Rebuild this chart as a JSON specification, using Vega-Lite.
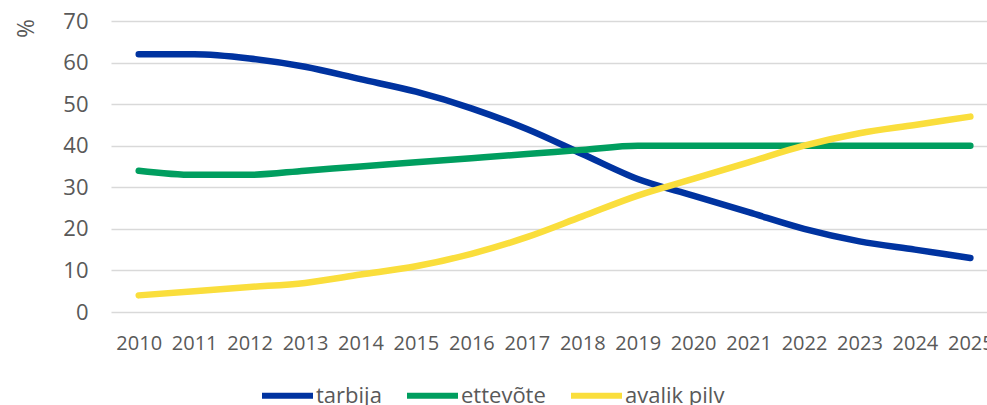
{
  "$schema": "https://vega.github.io/schema/vega-lite/v6.json",
  "width": 876,
  "height": 291,
  "autosize": "none",
  "padding": {"left": 111, "top": 21, "right": 0, "bottom": 93},
  "background": "white",
  "config": {
    "view": {"stroke": null},
    "font": "Open Sans",
    "axis": {"labelColor": "#595959", "labelFont": "Open Sans", "titleFont": "Open Sans"},
    "legend": {"labelFont": "Open Sans"}
  },
  "data": {
    "values": [
      {"year": 2010, "series": "tarbija", "value": 62},
      {"year": 2011, "series": "tarbija", "value": 62},
      {"year": 2012, "series": "tarbija", "value": 61},
      {"year": 2013, "series": "tarbija", "value": 59},
      {"year": 2014, "series": "tarbija", "value": 56},
      {"year": 2015, "series": "tarbija", "value": 53},
      {"year": 2016, "series": "tarbija", "value": 49},
      {"year": 2017, "series": "tarbija", "value": 44},
      {"year": 2018, "series": "tarbija", "value": 38},
      {"year": 2019, "series": "tarbija", "value": 32},
      {"year": 2020, "series": "tarbija", "value": 28},
      {"year": 2021, "series": "tarbija", "value": 24},
      {"year": 2022, "series": "tarbija", "value": 20},
      {"year": 2023, "series": "tarbija", "value": 17},
      {"year": 2024, "series": "tarbija", "value": 15},
      {"year": 2025, "series": "tarbija", "value": 13},
      {"year": 2010, "series": "ettevõte", "value": 34},
      {"year": 2011, "series": "ettevõte", "value": 33},
      {"year": 2012, "series": "ettevõte", "value": 33},
      {"year": 2013, "series": "ettevõte", "value": 34},
      {"year": 2014, "series": "ettevõte", "value": 35},
      {"year": 2015, "series": "ettevõte", "value": 36},
      {"year": 2016, "series": "ettevõte", "value": 37},
      {"year": 2017, "series": "ettevõte", "value": 38},
      {"year": 2018, "series": "ettevõte", "value": 39},
      {"year": 2019, "series": "ettevõte", "value": 40},
      {"year": 2020, "series": "ettevõte", "value": 40},
      {"year": 2021, "series": "ettevõte", "value": 40},
      {"year": 2022, "series": "ettevõte", "value": 40},
      {"year": 2023, "series": "ettevõte", "value": 40},
      {"year": 2024, "series": "ettevõte", "value": 40},
      {"year": 2025, "series": "ettevõte", "value": 40},
      {"year": 2010, "series": "avalik pilv", "value": 4},
      {"year": 2011, "series": "avalik pilv", "value": 5},
      {"year": 2012, "series": "avalik pilv", "value": 6},
      {"year": 2013, "series": "avalik pilv", "value": 7},
      {"year": 2014, "series": "avalik pilv", "value": 9},
      {"year": 2015, "series": "avalik pilv", "value": 11},
      {"year": 2016, "series": "avalik pilv", "value": 14},
      {"year": 2017, "series": "avalik pilv", "value": 18},
      {"year": 2018, "series": "avalik pilv", "value": 23},
      {"year": 2019, "series": "avalik pilv", "value": 28},
      {"year": 2020, "series": "avalik pilv", "value": 32},
      {"year": 2021, "series": "avalik pilv", "value": 36},
      {"year": 2022, "series": "avalik pilv", "value": 40},
      {"year": 2023, "series": "avalik pilv", "value": 43},
      {"year": 2024, "series": "avalik pilv", "value": 45},
      {"year": 2025, "series": "avalik pilv", "value": 47}
    ]
  },
  "mark": {"type": "line", "interpolate": "monotone", "strokeWidth": 6.5, "strokeCap": "round", "strokeJoin": "round"},
  "encoding": {
    "x": {
      "field": "year",
      "type": "quantitative",
      "scale": {"domain": [2009.5, 2025.3], "nice": false, "zero": false},
      "axis": {
        "title": null,
        "values": [2010, 2011, 2012, 2013, 2014, 2015, 2016, 2017, 2018, 2019, 2020, 2021, 2022, 2023, 2024, 2025],
        "format": "d",
        "grid": false,
        "domain": false,
        "ticks": false,
        "labelFontSize": 20,
        "labelPadding": 21,
        "labelOverlap": false,
        "labelFlush": false
      }
    },
    "y": {
      "field": "value",
      "type": "quantitative",
      "scale": {"domain": [0, 70], "nice": false},
      "axis": {
        "title": "%",
        "titleAngle": 270,
        "titleX": -85,
        "titleY": 7,
        "titleAlign": "center",
        "titleBaseline": "middle",
        "titleFontSize": 23,
        "titleFontWeight": "normal",
        "titleColor": "#595959",
        "values": [0, 10, 20, 30, 40, 50, 60, 70],
        "domain": false,
        "ticks": false,
        "grid": true,
        "gridColor": "#d9d9d9",
        "gridWidth": 1.5,
        "labelFontSize": 22,
        "labelPadding": 23
      }
    },
    "color": {
      "field": "series",
      "type": "nominal",
      "sort": ["tarbija", "ettevõte", "avalik pilv"],
      "scale": {"domain": ["tarbija", "ettevõte", "avalik pilv"], "range": ["#0033a0", "#009e5f", "#fade3c"]},
      "legend": {
        "title": null,
        "orient": "none",
        "direction": "horizontal",
        "legendX": 148,
        "legendY": 346,
        "symbolType": "stroke",
        "symbolSize": 2601,
        "symbolStrokeWidth": 6,
        "labelFontSize": 22,
        "labelColor": "#595959",
        "labelOffset": 0,
        "columnPadding": 13,
        "padding": 0
      }
    }
  }
}
